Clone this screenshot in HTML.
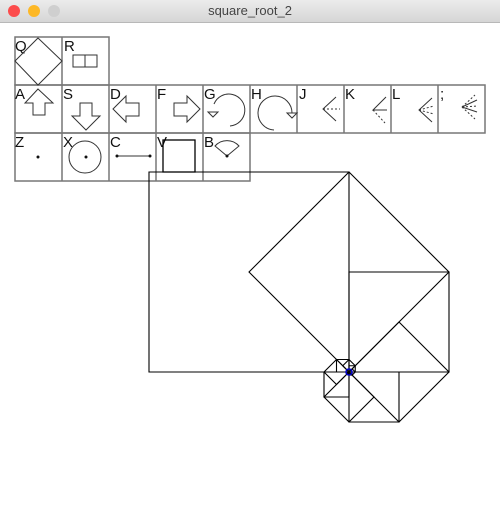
<!DOCTYPE html>
<html><head><meta charset="utf-8"><style>
body{margin:0;width:500px;height:520px;overflow:hidden;background:#fff;font-family:"Liberation Sans",sans-serif}
#bar{position:absolute;left:0;top:0;width:500px;height:22px;background:linear-gradient(#ececec,#d6d6d6);border-bottom:1px solid #b8b8b8;text-align:center;font-size:13px;line-height:22px;color:#444}
.dot{position:absolute;top:5px;width:12px;height:12px;border-radius:50%}
svg{position:absolute;left:0;top:0}
</style></head><body>
<div id="bar">square_root_2
<div class="dot" style="left:8px;background:#fc4c4c"></div>
<div class="dot" style="left:28px;background:#fdb826"></div>
<div class="dot" style="left:48px;background:#cfcfcf"></div>
</div>
<svg width="500" height="520" id="s">
<g stroke="#777" stroke-width="1.5" fill="none">
<rect x="15" y="37" width="94" height="48"/><line x1="62" y1="37" x2="62" y2="181"/>
<rect x="15" y="85" width="470" height="48"/>
<rect x="15" y="133" width="235" height="48"/>
<line x1="109" y1="85" x2="109" y2="181"/><line x1="156" y1="85" x2="156" y2="181"/><line x1="203" y1="85" x2="203" y2="181"/><line x1="250" y1="85" x2="250" y2="133"/>
<line x1="297" y1="85" x2="297" y2="133"/><line x1="344" y1="85" x2="344" y2="133"/><line x1="391" y1="85" x2="391" y2="133"/><line x1="438" y1="85" x2="438" y2="133"/>
</g>
<g font-size="15" fill="#111">
<text x="15" y="51">Q</text><text x="64" y="51">R</text>
<text x="15" y="99">A</text><text x="63" y="99">S</text><text x="110" y="99">D</text><text x="157" y="99">F</text><text x="204" y="99">G</text><text x="251" y="99">H</text><text x="299" y="99">J</text><text x="345" y="99">K</text><text x="392" y="99">L</text><text x="440" y="99">;</text>
<text x="15" y="147">Z</text><text x="63" y="147">X</text><text x="110" y="147">C</text><text x="157" y="147">V</text><text x="204" y="147">B</text>
</g>
<g stroke="#333" stroke-width="1" fill="none">
<polygon points="38,38 62,61 38,85 15,61"/>
<rect x="73" y="55" width="24" height="12"/><line x1="85" y1="55" x2="85" y2="67"/>
<polygon points="38,89 53,103 45,103 45,115 33,115 33,103 25,103"/>
<polygon points="80,103 92,103 92,116 100,116 86,130 72,116 80,116"/>
<polygon points="113,109 126,96 126,103 139,103 139,116 126,116 126,122"/>
<polygon points="200,109 187,96 187,103 174,103 174,116 187,116 187,122"/>
<path d="M230,126 A16,16 0 1 0 214,104"/><polygon points="208,112 218,112 213,117"/>
<path d="M292,113 A17,17 0 1 0 274,130"/><polygon points="287,113 297,113 292,118"/>
<polyline points="336,97 323,109 336,121"/><line x1="323" y1="109" x2="340" y2="109" stroke-dasharray="2,2"/>
<polyline points="386,97 373,110 387,110"/><line x1="373" y1="110" x2="385" y2="123" stroke-dasharray="2,2"/>
<polyline points="432,98 419,110 432,122"/><line x1="419" y1="110" x2="434" y2="106" stroke-dasharray="2,2"/><line x1="419" y1="110" x2="434" y2="114" stroke-dasharray="2,2"/>
<line x1="462" y1="107" x2="477" y2="100"/><line x1="462" y1="107" x2="477" y2="112"/><line x1="462" y1="107" x2="475" y2="95" stroke-dasharray="2,2"/><line x1="462" y1="107" x2="475" y2="119" stroke-dasharray="2,2"/><line x1="462" y1="107" x2="478" y2="106" stroke-dasharray="2,2"/>
<circle cx="85" cy="157" r="16"/><line x1="117" y1="156" x2="150" y2="156"/>
<rect x="163" y="140" width="32" height="32" stroke="#000" stroke-width="1.3"/>
<path d="M227,156 L215,146 A16,16 0 0 1 239,146 Z"/>
</g>
<g fill="#111">
<circle cx="38" cy="157" r="1.5"/><circle cx="86" cy="157" r="1.5"/><circle cx="117" cy="156" r="1.5"/><circle cx="150" cy="156" r="1.5"/><circle cx="227" cy="156" r="1.5"/>
</g>
<g id="sp" stroke="#000" stroke-width="1.1" fill="none"></g>
<circle cx="349" cy="372" r="3" fill="none" stroke="#00c" stroke-width="1.5"/>
</svg>
<script>
const center=[349,372];
const firstSide=200;
const steps=16;
const g=document.getElementById('sp');
let v=[[-firstSide,0],[-firstSide,-firstSide],[0,-firstSide]];
for(let i=0;i<steps;i++){
  const p=document.createElementNS('http://www.w3.org/2000/svg','polygon');
  const pts=[[0,0]].concat(v).map(q=>(center[0]+q[0]).toFixed(2)+','+(center[1]+q[1]).toFixed(2)).join(' ');
  p.setAttribute('points',pts);
  
  
  g.appendChild(p);
  v=v.map(q=>[(q[0]-q[1])/2,(q[0]+q[1])/2]);
}
</script>
</body></html>
